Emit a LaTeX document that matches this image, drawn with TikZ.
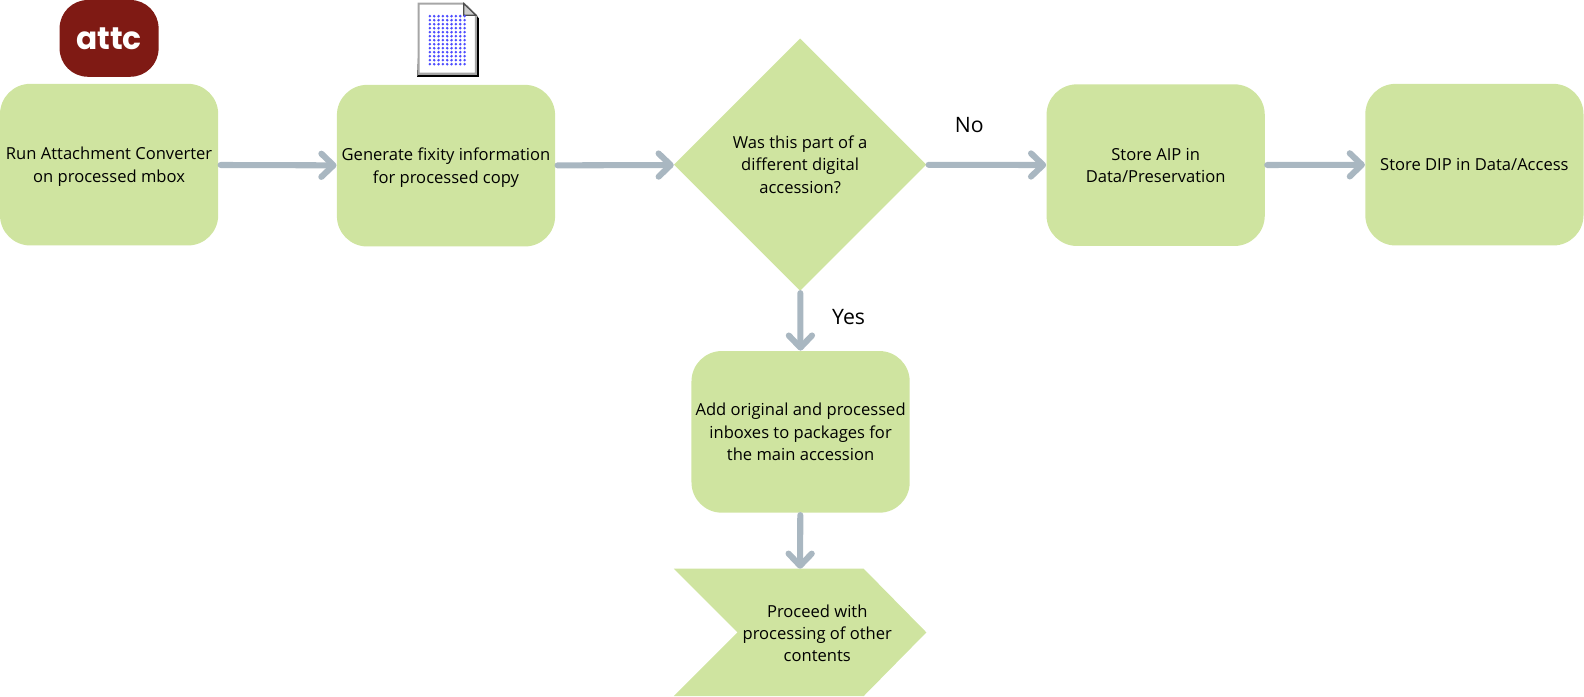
\documentclass[tikz,border=0pt]{standalone}
\usepackage{fontspec}
\setmainfont{Open Sans}
\newfontfamily\logofont{Poppins}
\usetikzlibrary{shapes.geometric,arrows.meta}
\definecolor{stepgreen}{HTML}{CFE4A0}
\definecolor{flowgray}{HTML}{A9B7C1}
\definecolor{attcred}{HTML}{7F1A14}
\tikzset{
	steptext/.style={align=center, font=\fontsize{8.2}{11}\selectfont, text depth=0pt},
	stepbox/.style={steptext, fill=stepgreen, rounded corners=15pt, minimum width=108pt, minimum height=80pt, inner sep=0pt},
	decision/.style={steptext, fill=stepgreen, diamond, aspect=1, minimum width=125pt, minimum height=125pt, inner sep=0pt},
	branch/.style={font=\fontsize{10.5}{12}\selectfont},
	flow/.style={->, flowgray, line width=3pt, line cap=round, shorten <=1pt}
}
\begin{document}
\begin{tikzpicture}[>={Straight Barb[length=6pt,width=11.5pt,line width=3pt,round]},x=0.5pt,y=-0.5pt]
	\useasboundingbox (0,0) rectangle (1568,689);
	
	% the steps
	\node[stepbox] (attach) at (108,163) {Run Attachment Converter\\on processed mbox};
	\node[stepbox] (fixity) at (441.5,164) {Generate fixity information\\for processed copy};
	\node[decision] (part) at (792,163) {Was this part of a\\different digital\\accession?};
	\node[stepbox] (aip) at (1144,163.5) {Store AIP in\\Data/Preservation};
	\node[stepbox] (dip) at (1459.5,163) {Store DIP in Data/Access};
	\node[stepbox] (add) at (792.5,427.5) {Add original and processed\\inboxes to packages for\\the main accession};
	
	% the off-page shape
	\fill[stepgreen] (667,563)--(730,626)--(667,689)--(855,689)--(917,626)--(855,563)--cycle;
	\coordinate (procin) at (792,563);
	\node[steptext] (proceed) at (809,627) {Proceed with\\processing of other\\contents};
	
	% the logo
	\node[fill=attcred, rounded corners=14pt, minimum width=49pt, minimum height=38pt, inner sep=0pt, text=white, font=\logofont\fontsize{15.5}{16}\selectfont\bfseries] (attc) at (108,38) {attc};
	
	% the file icon
	\fill[black] (416,5)--(462,5)--(474,18)--(474,76)--(413,76)--cycle;
	\fill[white, draw=gray!70, line width=1pt] (414.5,3.5)--(459,3.5)--(471,15)--(471,73)--(414.5,73)--cycle;
	\fill[gray!40, draw=black!70, line width=0.6pt] (459,3.5)--(471,15)--(459,15)--cycle;
	\foreach \x in {0,...,8} \foreach \y in {0,...,12}    {
		\fill[blue!70!white] (425.5+\x*4.3,16+\y*3.96) circle (0.7pt);    }
	
	% the arrows
	\draw[flow] (attach) -- (fixity);
	\draw[flow] (fixity) -- (part);
	\draw[flow] (part) -- (aip);
	\draw[flow] (aip) -- (dip);
	\draw[flow] (part) -- (add);
	\draw[flow] (add) -- (procin);
	
	% the branch labels
	\node[branch] (no) at (959.5,124) {No};
	\node[branch] (yes) at (840,314) {Yes};
\end{tikzpicture}
\end{document}
